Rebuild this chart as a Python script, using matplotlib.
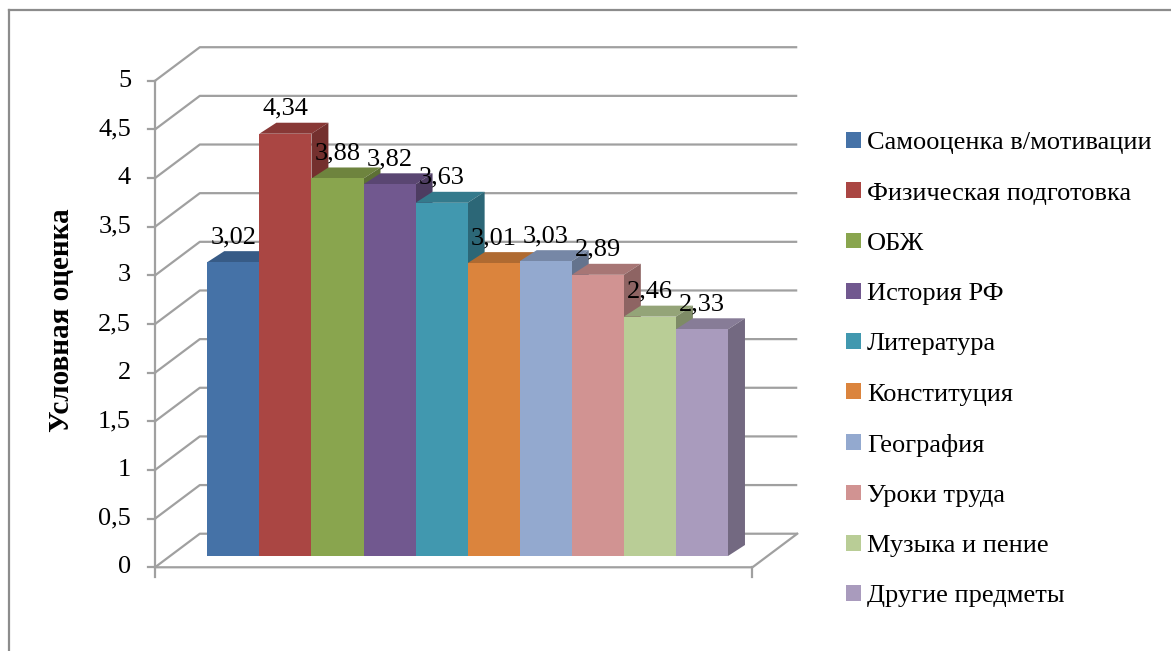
import numpy as np
import matplotlib
matplotlib.use("Agg")
import matplotlib.pyplot as plt
from matplotlib.patches import Patch
from matplotlib.lines import Line2D
from matplotlib.colors import to_rgb

subjects = ["Самооценка в/мотивации", "Физическая подготовка", "ОБЖ", "История РФ",
            "Литература", "Конституция", "География", "Уроки труда",
            "Музыка и пение", "Другие предметы"]
scores = [3.02, 4.34, 3.88, 3.82, 3.63, 3.01, 3.03, 2.89, 2.46, 2.33]
colors = ["#4572A7", "#AA4643", "#89A54E", "#71588F", "#4198AF",
          "#DB843D", "#93A9CF", "#D19392", "#B9CD96", "#A99BBD"]
yticks = np.arange(0, 5.01, 0.5)
ylabel = "Условная оценка"

plt.rcParams['font.family'] = ['Liberation Serif', 'DejaVu Serif']

W, H = 1171, 651
fig = plt.figure(figsize=(W / 100, H / 100), dpi=100)
ax = fig.add_axes([0, 0, 1, 1])
ax.axis('off')

# data units: one bar = 52.07 px wide, one score unit = 97.3 px, bar base at px (207.3, 556)
px_x, px_y = 52.07, 97.3
ax.set_xlim(-207.3 / px_x, (W - 207.3) / px_x)
ax.set_ylim((556 - H) / px_y, 556 / px_y)

grid_c = '#a0a0a0'
lw = 1.6
f0x, f0y = -1.004, -0.116        # front corner of the floor
dx, dy = 0.86, 0.345             # wall depth
floor_right = 10.47
bdx, bdy = 0.326, 0.113          # bar depth

# walls / gridlines
for v in yticks:
    ax.plot([f0x, f0x + dx, floor_right + dx], [f0y + v, f0y + dy + v, f0y + dy + v],
            color=grid_c, lw=lw, zorder=1, solid_capstyle='butt')
    ax.plot([f0x - 0.134, f0x], [f0y + v, f0y + v], color=grid_c, lw=lw, zorder=1)
    ax.text(-1.465, f0y + v, ('%g' % v).replace('.', ','), ha='right', va='center',
            fontsize=19, color='black')
ax.plot([f0x, f0x], [f0y - 0.1, f0y + 5], color=grid_c, lw=lw, zorder=1)
ax.plot([f0x, floor_right, floor_right + dx], [f0y, f0y, f0y + dy], color=grid_c, lw=lw, zorder=1)
ax.plot([floor_right, floor_right], [f0y, f0y - 0.1], color=grid_c, lw=lw, zorder=1)

# bars
xs = np.arange(len(scores))
ax.bar(xs, scores, width=1, align='edge', color=colors, zorder=3, linewidth=0)
for x, v, c in zip(xs, scores, colors):
    rgb = np.array(to_rgb(c))
    ax.fill([x, x + 1, x + 1 + bdx, x + bdx], [v, v, v + bdy, v + bdy],
            color=rgb * 0.8, zorder=2, lw=0)
    ax.fill([x + 1, x + 1 + bdx, x + 1 + bdx, x + 1], [0, bdy, v + bdy, v],
            color=rgb * 0.68, zorder=2, lw=0)
    ax.text(x + 0.5, v + 0.195, ('%.2f' % v).replace('.', ','), ha='center',
            va='baseline', fontsize=19, zorder=10)

fig.text(62 / W, 1 - 320 / H, ylabel, rotation=90, ha='center', va='center',
         fontsize=21, fontweight='bold')

handles = [Patch(facecolor=c, edgecolor='none') for c in colors]
fig.legend(handles, subjects, loc='upper left', bbox_to_anchor=(846 / W, 1 - 132 / H),
           frameon=False, fontsize=19, handlelength=0.55, handleheight=0.55,
           handletextpad=0.25, labelspacing=1.06, borderpad=0, borderaxespad=0)

# outer frame
fig.add_artist(Line2D([9 / W, 1], [1 - 10 / H, 1 - 10 / H], transform=fig.transFigure,
                      color='#8c8c8c', lw=1.6))
fig.add_artist(Line2D([9 / W, 9 / W], [0, 1 - 10 / H], transform=fig.transFigure,
                      color='#8c8c8c', lw=1.6))

fig.savefig("out.png", dpi=100)
